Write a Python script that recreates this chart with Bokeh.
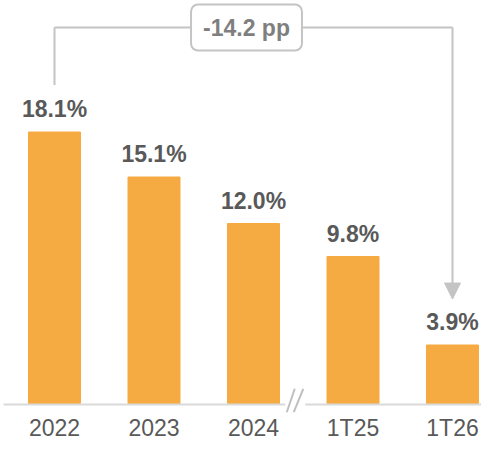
from bokeh.plotting import figure
from bokeh.models import Range1d, Label, Arrow, NormalHead, ColumnDataSource
from bokeh.core.properties import value
from bokeh.embed import file_html
from bokeh.resources import INLINE

# ---- data ----
categories = ["2022", "2023", "2024", "1T25", "1T26"]
rates = [18.1, 15.1, 12.0, 9.8, 3.9]
value_labels = ["18.1%", "15.1%", "12.0%", "9.8%", "3.9%"]
change_label = "-14.2 pp"

# ---- style / layout ----
BAR = "#F5AB42"
TXT = "#595959"
GRAY = "#c4c4c4"
AXIS = "#d9d9d9"
FONT = "Liberation Sans"

W, H = 481, 443
PX_X = 99.5            # px per category
PY = 15.0              # px per percentage point
X0 = 54                # px of first category centre
Y0 = 40                # px (from bottom) of zero line

def dx(fx):
    return (fx - X0) / PX_X

def dy(fy):
    return (H - fy - Y0) / PY

BASE = H - Y0          # px (from top) of zero line
xs = list(range(len(categories)))

p = figure(width=W, height=H, output_backend="svg", toolbar_location=None,
           x_range=Range1d(-X0 / PX_X, (W - X0) / PX_X),
           y_range=Range1d(-Y0 / PY, (H - Y0) / PY),
           x_axis_type=None, y_axis_type=None, min_border=0)
p.grid.visible = False
p.outline_line_color = None
p.background_fill_color = "white"
p.border_fill_color = "white"

src = ColumnDataSource(dict(x=xs, top=rates, lab=value_labels, cat=categories,
                            ly=[r + 10 / PY for r in rates],
                            cy=[dy(BASE + 24)] * len(xs)))

p.vbar(x="x", top="top", bottom=0, width=52 / PX_X, color=BAR, source=src)

# baseline with break
c = X0 + 2.5 * PX_X - 8     # centre of the break
p.segment(x0=[dx(3), dx(c + 10)], y0=[dy(BASE + 1)] * 2,
          x1=[dx(c - 10), dx(W)], y1=[dy(BASE + 1)] * 2,
          line_color=AXIS, line_width=2)
p.segment(x0=[dx(c - 8.5), dx(c - 1.5)], y0=[dy(BASE + 8.7)] * 2,
          x1=[dx(c - 0.5), dx(c + 8)], y1=[dy(BASE - 14.7)] * 2,
          line_color="#bfbfbf", line_width=2)

# value labels
p.text(x="x", y="ly", text="lab", source=src, text_align="center",
       text_baseline="bottom", text_font=value(FONT), text_font_size="23px",
       text_font_style="bold", text_color=TXT)

# category labels
p.text(x="x", y="cy", text="cat", source=src, text_align="center",
       text_baseline="alphabetic", text_font=value(FONT), text_font_size="23px",
       text_color=TXT)

# bracket
level = dy(27)
first, last = 0, len(xs) - 1
p.segment(x0=[first, first], y0=[rates[first] + 47 / PY, level],
          x1=[first, last], y1=[level, level], line_color=GRAY, line_width=2)
p.add_layout(Arrow(end=NormalHead(size=16, fill_color=GRAY, line_color=GRAY),
                   x_start=last, y_start=level, x_end=last, y_end=rates[last] + 46 / PY,
                   line_color=GRAY, line_width=2))

p.add_layout(Label(x=(first + last) / 2 - 7 / PX_X, y=level, text=change_label,
                   text_align="center", text_baseline="middle", text_font=FONT,
                   text_font_size="23px", text_font_style="bold", text_color="#7f7f7f",
                   background_fill_color="white", border_line_color=GRAY,
                   border_line_width=2, border_radius=7,
                   padding=dict(left=12, right=12, top=10, bottom=10)))

open("out.html", "w").write(file_html(p, INLINE))
